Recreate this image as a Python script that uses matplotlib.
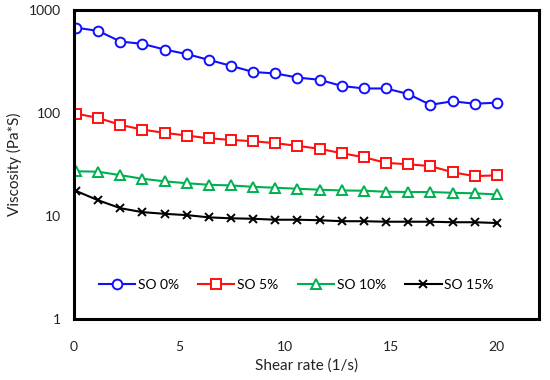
import numpy as np
import matplotlib
matplotlib.use("Agg")
import matplotlib.pyplot as plt

plt.rcParams["font.family"] = ["Lato", "DejaVu Sans"]

# shear rate (1/s)
shear = [0.1, 1.15, 2.2, 3.24, 4.29, 5.34, 6.38, 7.43, 8.48, 9.53,
         10.57, 11.62, 12.67, 13.72, 14.76, 15.81, 16.86, 17.91, 18.95, 20.0]

so_0 = [674, 626, 494, 469, 413, 373, 328, 287, 250, 242,
        221, 210, 183, 173, 173, 153, 120, 130, 123, 126]
so_5 = [98.6, 89.5, 76.6, 69.0, 64.1, 60.4, 56.8, 54.8, 53.2, 50.9,
        48.0, 44.9, 40.7, 37.2, 32.8, 31.8, 30.5, 26.6, 24.4, 24.8]
so_10 = [27.2, 26.9, 24.9, 23.0, 21.7, 20.8, 20.1, 19.8, 19.2, 18.8,
         18.4, 18.0, 17.7, 17.6, 17.2, 17.1, 17.1, 16.8, 16.6, 16.2]
so_15 = [17.5, 14.2, 11.9, 10.9, 10.5, 10.2, 9.7, 9.5, 9.4, 9.2,
         9.2, 9.1, 8.9, 8.9, 8.8, 8.8, 8.8, 8.7, 8.7, 8.55]

series = [
    ("SO 0%", so_0, "#1010ff", "o"),
    ("SO 5%", so_5, "#ff1010", "s"),
    ("SO 10%", so_10, "#00b050", "^"),
    ("SO 15%", so_15, "black", "x"),
]

fig = plt.figure(figsize=(5.5, 3.8), dpi=100)
ax = fig.add_axes([0.1345, 0.1605, 0.8455, 0.8132])

for lab, vals, c, m in series:
    ax.plot(shear, vals, color=c, lw=1.5, marker=m, ms=7 if m != "x" else 6,
            mfc="white" if m != "x" else c, mec=c, mew=1.4, label=lab)

ax.set_yscale("log")
ax.set_ylim(1, 1000)
ax.set_xlim(0, 22)
ax.set_xticks([0, 5, 10, 15, 20])
ax.set_yticks([1, 10, 100, 1000])
ax.set_yticklabels(["1", "10", "100", "1000"])
ax.minorticks_off()
ax.tick_params(length=0, labelsize=10, colors="#222222")
ax.tick_params(axis="x", pad=16)
ax.tick_params(axis="y", pad=9)
for s in ax.spines.values():
    s.set_linewidth(2.2)
    s.set_color("black")

ax.set_xlabel("Shear rate (1/s)", fontsize=11, color="#222222", labelpad=4)
ax.set_ylabel("Viscosity (Pa*S)", fontsize=11, color="#222222", labelpad=5)

ax.legend(loc="center", bbox_to_anchor=(0.478, 0.11), ncol=4, frameon=False,
          fontsize=10, handlelength=2.6, columnspacing=1.4, handletextpad=0.2)

fig.savefig("out.png", dpi=100)
